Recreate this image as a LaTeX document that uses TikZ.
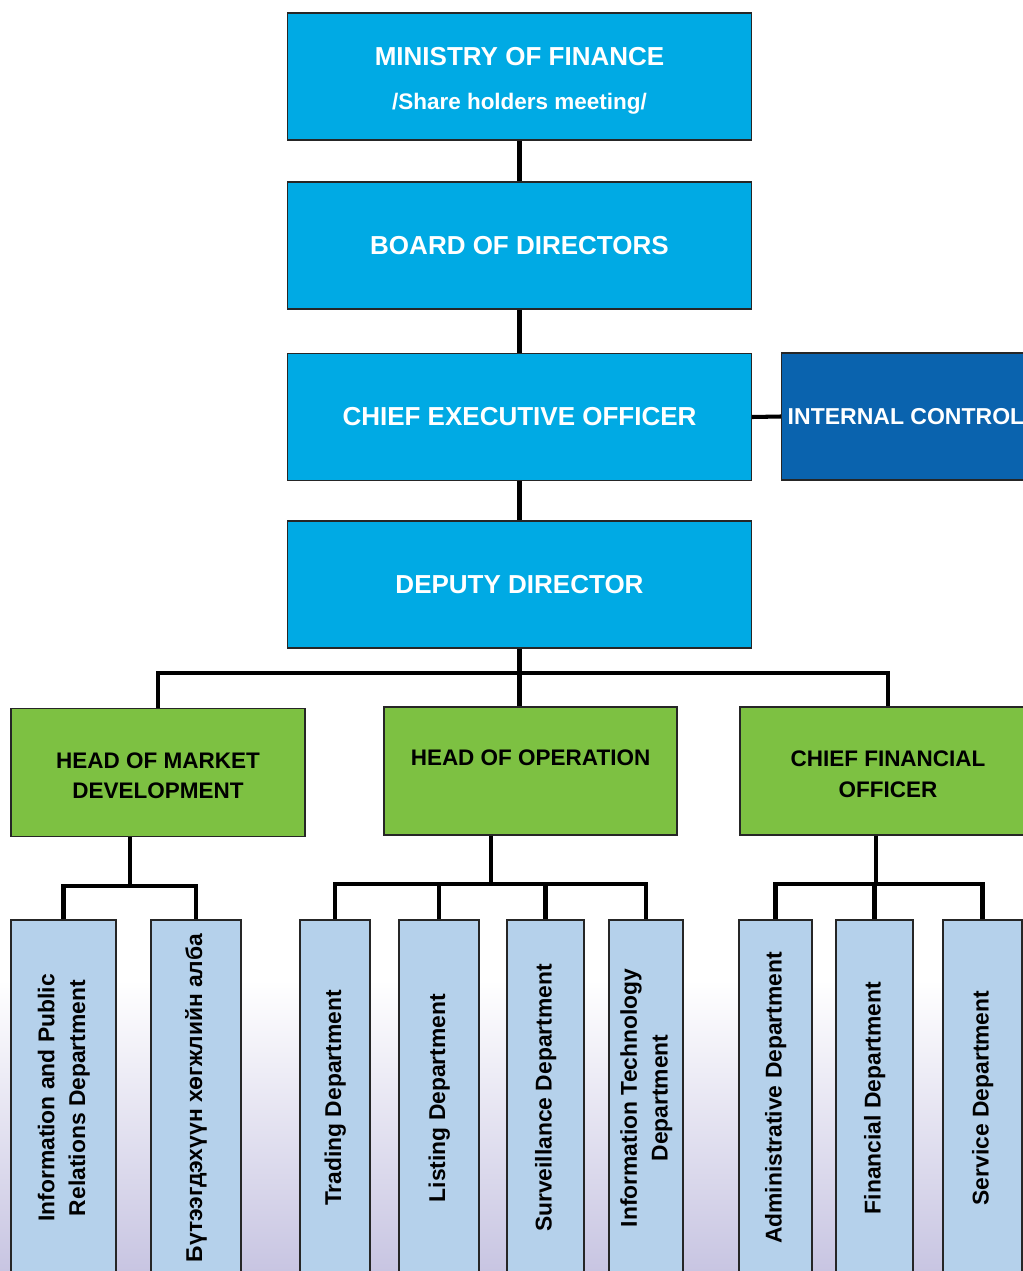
\documentclass[tikz,border=0pt]{standalone}
\usepackage{fontspec}
\setmainfont{Liberation Sans}
\usepackage{graphicx}
\usepackage{tikz}
\definecolor{mofblue}{RGB}{0,170,228}
\definecolor{icblue}{RGB}{10,99,174}
\definecolor{headgreen}{RGB}{125,193,66}
\definecolor{deptblue}{RGB}{181,209,235}
\definecolor{bglilac}{RGB}{200,197,226}
\tikzstyle{topbox}=[draw=black!85, line width=0.8pt, fill=mofblue, text=white,
               font=\bfseries\fontsize{14.8}{18}\selectfont, align=center,
               minimum width=9.28cm, minimum height=2.54cm, inner sep=0pt]
\tikzstyle{headbox}=[draw=black!85, line width=0.8pt, fill=headgreen, text=black,
               font=\bfseries\fontsize{12.8}{17.5}\selectfont, align=center,
               minimum height=2.56cm, inner sep=0pt]
\tikzstyle{deptbox}=[draw=black!85, line width=0.8pt, fill=deptblue, text=black,
               font=\bfseries\fontsize{13}{17.5}\selectfont,
               minimum height=7.12cm, inner sep=0pt]
\tikzstyle{link}=[line width=2.3pt, black]
\newcommand{\vlabel}[1]{\rotatebox{90}{\begin{tabular}{@{}c@{}}#1\end{tabular}}}

\begin{document}
\begin{tikzpicture}[x=0.02cm, y=-0.02cm]
\useasboundingbox (0,0) rectangle (1022,1271);
\shade[top color=white, bottom color=bglilac] (0,980) rectangle (1022,1271);

% top of the chart
\node[topbox] (mof) at (519.5,76.5) {\rule{0pt}{15.2pt}MINISTRY OF FINANCE\\[7pt]
  {\fontsize{12.8}{15}\selectfont /Share holders meeting/}};
\node[topbox] (bod) at (519.5,245.5) {BOARD OF DIRECTORS};
\node[topbox] (ceo) at (519.5,417) {CHIEF EXECUTIVE OFFICER};
\node[topbox, fill=icblue, minimum width=4.98cm,
      font=\bfseries\fontsize{13.1}{15}\selectfont] (ic) at (906,416.5) {INTERNAL CONTROL};
\node[topbox] (dd) at (519.5,584.5) {DEPUTY DIRECTOR};

\draw[link] (mof.south) -- (bod.north);
\draw[link] (bod.south) -- (ceo.north);
\draw[link] (ceo.south) -- (dd.north);
\draw[link] (ceo.east) -- (ic.west);

% heads
\node[headbox, minimum width=5.88cm] (hmd) at (158,772.5) {\rule{0pt}{12.6pt}HEAD OF MARKET\\DEVELOPMENT};
\node[headbox, minimum width=5.86cm] (hoo) at (530.5,771) {\rule{0pt}{11.5pt}HEAD OF OPERATION\\\mbox{}};
\node[headbox, minimum width=5.92cm] (cfo) at (888,771) {\rule{0pt}{12.6pt}CHIEF FINANCIAL\\OFFICER};

\coordinate (ddbar) at (519.5,673);
\draw[link] (dd.south) -- (ddbar |- hoo.north);
\draw[link] (hmd.north) |- (ddbar) -| (cfo.north);

% departments
\node[deptbox, minimum width=2.1cm]  (ipr) at (63.5,1098) {\vlabel{Information and Public\\Relations Department}};
\node[deptbox, minimum width=1.8cm]  (pdu) at (196,1098) {\vlabel{Бүтээгдэхүүн хөгжлийн алба}};
\node[deptbox, minimum width=1.4cm]  (trd) at (335,1098) {\vlabel{Trading Department}};
\node[deptbox, minimum width=1.6cm]  (lst) at (439,1098) {\vlabel{Listing Department}};
\node[deptbox, minimum width=1.54cm] (srv) at (545.5,1098) {\vlabel{Surveillance Department}};
\node[deptbox, minimum width=1.48cm] (itd) at (646,1098) {\vlabel{Information Technology\\Department}};
\node[deptbox, minimum width=1.46cm] (adm) at (775.5,1098) {\vlabel{Administrative Department}};
\node[deptbox, minimum width=1.54cm] (fin) at (874.5,1098) {\vlabel{Financial Department}};
\node[deptbox, minimum width=1.58cm] (svc) at (982.5,1098) {\vlabel{Service Department}};

\coordinate (hmdbar) at (130,886);
\coordinate (hoobar) at (491,884);
\coordinate (cfobar) at (876,884);

\draw[link] (hmdbar |- hmd.south) -- (hmdbar);
\draw[link] (ipr.north) |- (hmdbar) -| (pdu.north);

\draw[link] (hoobar |- hoo.south) -- (hoobar);
\draw[link] (trd.north) |- (hoobar) -| (itd.north);
\foreach \d in {lst,srv}
  \draw[link] (\d.north) -- (\d.north |- hoobar);

\draw[link] (cfobar |- cfo.south) -- (cfobar);
\draw[link] (adm.north) |- (cfobar) -| (svc.north);
\draw[link] (fin.north) -- (fin.north |- cfobar);
\end{tikzpicture}
\end{document}
